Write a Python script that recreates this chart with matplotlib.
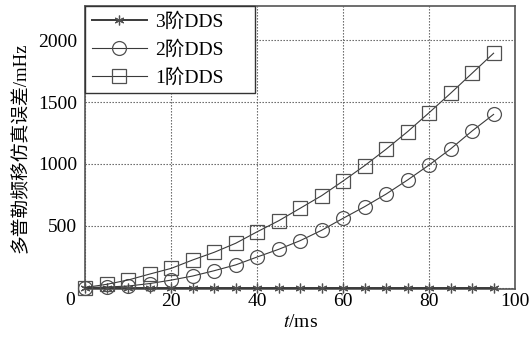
import numpy as np
import matplotlib
matplotlib.use('Agg')
import matplotlib.pyplot as plt

plt.rcParams['font.family'] = ['Liberation Serif', 'Noto Sans CJK SC']
plt.rcParams['mathtext.fontset'] = 'stix'

# data
t = [0, 5, 10, 15, 20, 25, 30, 35, 40, 45, 50, 55, 60, 65, 70, 75, 80, 85, 90, 95]
err_dds3 = [0, 0, 0, 0, 0, 0, 0, 0, 0, 0, 0, 0, 0, 0, 0, 0, 0, 0, 0, 0]
err_dds2 = [0, 4, 12, 32, 60, 93, 136, 183, 247, 309, 379, 463, 560, 654, 756, 870, 991, 1121, 1266, 1400]
err_dds1 = [0, 26, 61, 109, 155, 223, 285, 358, 451, 540, 641, 743, 862, 986, 1119, 1261, 1414, 1571, 1733, 1895]

xticks = [0, 20, 40, 60, 80, 100]
yticks = [0, 500, 1000, 1500, 2000]

fig = plt.figure(figsize=(5.31, 3.42), dpi=100)
ax = fig.add_axes([0.1607, 0.155, 0.8093, 0.8275])

lc = '#3a3a3a'
mc = '#505050'
ax.plot(t, err_dds3, color=lc, lw=1.4, marker=(6, 2, 0), ms=7, mec=mc, mew=0.9,
        label='3阶DDS', clip_on=False, zorder=3)
ax.plot(t, err_dds2, color=lc, lw=0.8, marker='o', ms=10, mfc='none', mec=mc, mew=0.9,
        label='2阶DDS', clip_on=False, zorder=3)
ax.plot(t, err_dds1, color=lc, lw=0.8, marker='s', ms=10.5, mfc='none', mec=mc, mew=0.9,
        label='1阶DDS', clip_on=False, zorder=3)

ax.set_xlim(0, 100)
ax.set_ylim(-12, 2277)
ax.set_xticks(xticks)
ax.set_xticklabels([''] + [str(v) for v in xticks[1:]])
ax.set_yticks(yticks)
ax.set_yticklabels([''] + [str(v) for v in yticks[1:]])
ax.tick_params(length=0, labelsize=14, colors='black')
ax.tick_params(axis='x', pad=3)
ax.tick_params(axis='y', pad=6)
ax.grid(True, color='#555555', linestyle=(0, (1.2, 1.5)), lw=0.8)
for s in ax.spines.values():
    s.set_color('#555555')
    s.set_linewidth(1.2)

ax.text(-0.036, -0.04, '0', transform=ax.transAxes, ha='center', va='center', fontsize=14)

ax.set_xlabel('$t$/ms', fontsize=14, labelpad=3)
ax.set_ylabel('多普勒频移仿真误差/mHz', fontsize=13.5, labelpad=6)

leg = ax.legend(loc='upper left', bbox_to_anchor=(0, 0, 0.395, 1), mode='expand',
                borderaxespad=0, fontsize=14, frameon=True, fancybox=False,
                edgecolor='#333333', framealpha=1, handlelength=2.8, handletextpad=0.45,
                labelspacing=0.48, borderpad=0.35)
leg.get_frame().set_linewidth(1.0)

fig.savefig('out.png', dpi=100)
